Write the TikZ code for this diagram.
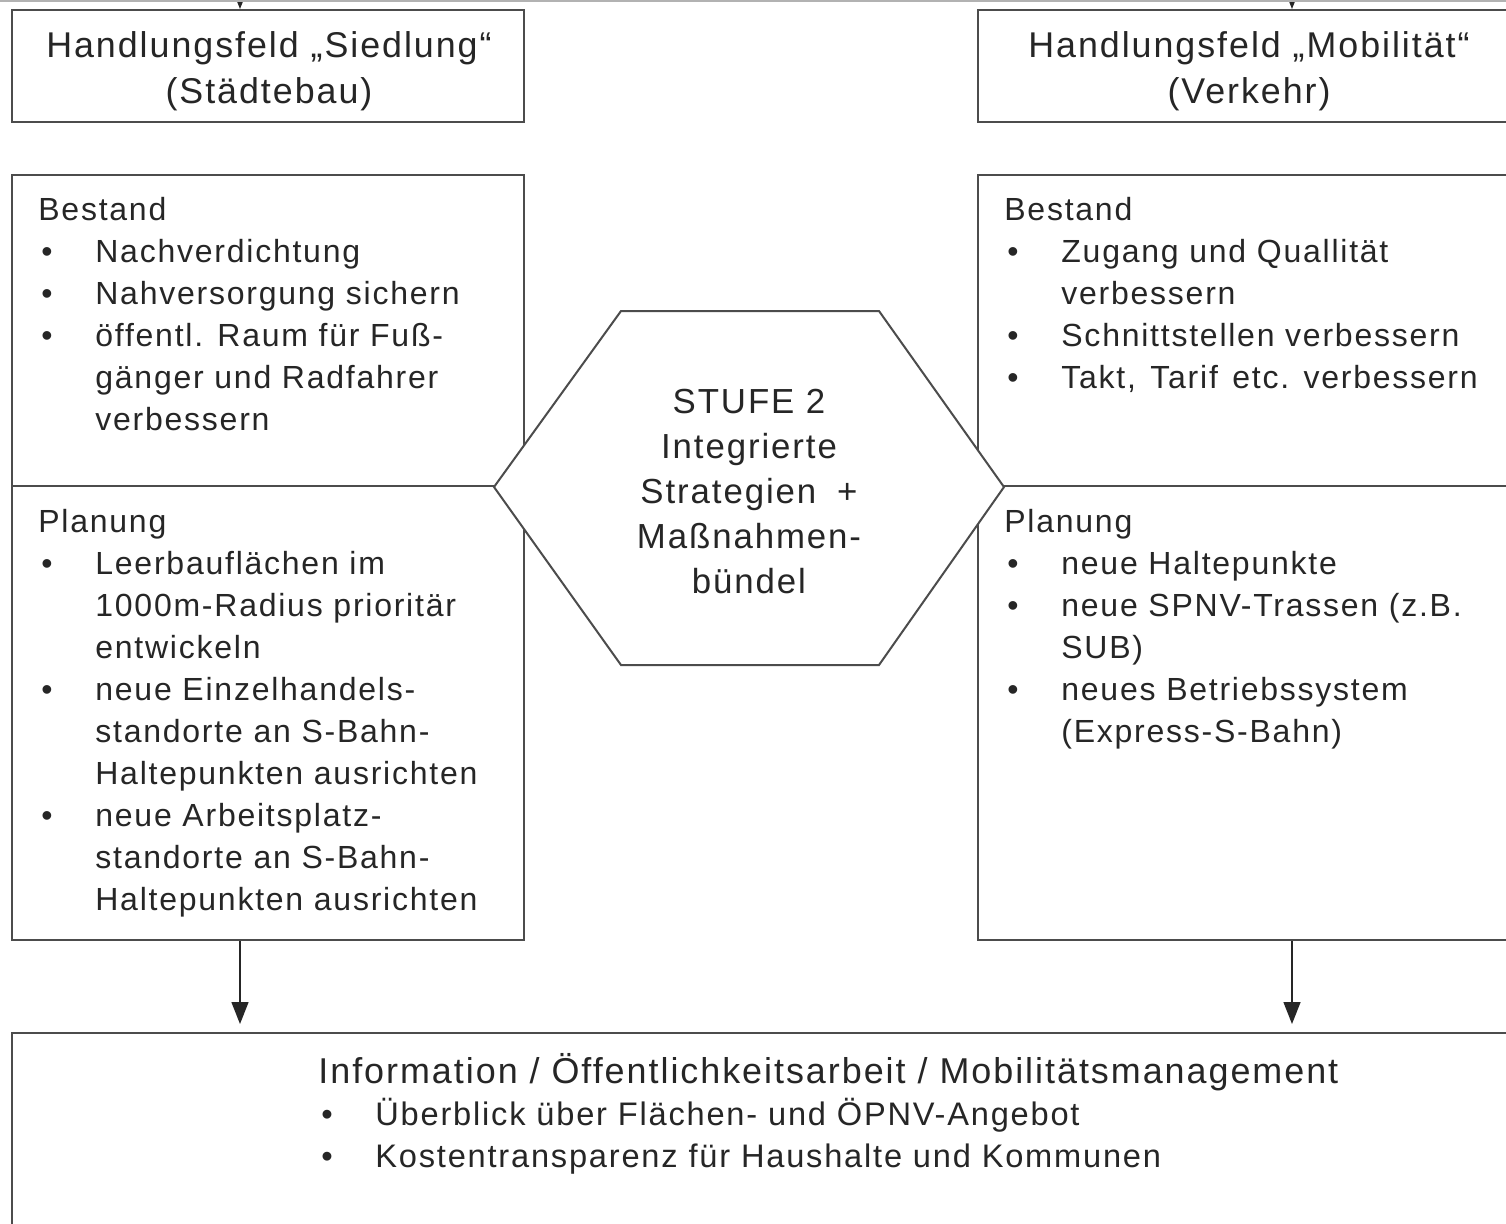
\documentclass[tikz,border=0pt]{standalone}
\usepackage{fontspec}
\setmainfont{Liberation Sans}[LetterSpace=5.5]
\usetikzlibrary{arrows.meta}
\newcommand{\bul}{\makebox[28.5pt][l]{\hspace{1.5pt}•}}
\newcommand{\ind}{\hspace*{28.5pt}}
\newcommand{\bodyfont}{\fontsize{16}{21}\selectfont}
\newcommand{\headfont}{\fontsize{17.9}{23}\selectfont}
\begin{document}
\begin{tikzpicture}[x=0.5pt,y=-0.5pt,
  boxst/.style={draw=black!70, line width=1pt, rectangle, inner sep=0pt, fill=white},
  hexst/.style={draw=black!70, line width=1pt, fill=white},
  linest/.style={draw=black!70, line width=1pt},
  txt/.style={inner sep=0pt, text=black!85},
  arr/.style={draw=black!85, line width=0.7pt, -{Triangle[length=11pt,width=8.5pt]}}]
\useasboundingbox (0,0) rectangle (1506,1223);
\clip (0,0) rectangle (1506,1223);
\fill[white] (0,0) rectangle (1506,1223);
% boxes
\node[boxst, minimum width=256pt, minimum height=56pt] (H1) at (268,66) {};
\node[boxst, minimum width=271pt, minimum height=56pt] (H2) at (1249,66) {};
\node[boxst, minimum width=256pt, minimum height=382.5pt] (LB) at (268,557.5) {};
\node[boxst, minimum width=271pt, minimum height=382.5pt] (RB) at (1249,557.5) {};
\node[boxst, minimum width=754pt, minimum height=113.5pt] (BB) at (766,1146.5) {};
% dividers
\coordinate (dv) at (0,486);
\draw[linest] (LB.west |- dv) -- (LB.east |- dv);
\draw[linest] (RB.west |- dv) -- (RB.east |- dv);
% hexagon
\coordinate (h1) at (494,487);
\coordinate (h2) at (621,311);
\coordinate (h3) at (879,311);
\coordinate (h4) at (1004,487);
\coordinate (h5) at (879,665);
\coordinate (h6) at (621,665);
\draw[hexst] (h1) -- (h2) -- (h3) -- (h4) -- (h5) -- (h6) -- cycle;
% arrows
\coordinate (xl) at (240,0);
\coordinate (xr) at (1292,0);
\coordinate (tl) at (240,-60);
\coordinate (tr) at (1292,-60);
\draw[arr, shorten >=4pt] (xl |- LB.south) -- (xl |- BB.north);
\draw[arr, shorten >=4pt] (xr |- RB.south) -- (xr |- BB.north);
\draw[arr] (tl) -- (xl |- H1.north);
\draw[arr] (tr) -- (xr |- H2.north);
\draw[black!30, line width=1pt] (0,1) -- (1506,1);
% texts
\node[txt, anchor=base] (t1) at (269,57) {\parbox[t]{250pt}{\centering\headfont Handlungsfeld „Siedlung“\\(Städtebau)}};
\node[txt, anchor=base] (t2) at (1249,57) {\parbox[t]{250pt}{\centering\headfont Handlungsfeld „Mobilität“\\(Verkehr)}};
\node[txt, anchor=base west] (t3) at (38,220) {\parbox[t]{250pt}{\raggedright\bodyfont Bestand\\
\bul Nachverdichtung\\
\bul Nahversorgung sichern\\
\bul öffentl. Raum für Fuß-\\
\ind gänger und Radfahrer\\
\ind verbessern}};
\node[txt, anchor=base west] (t4) at (38,532) {\parbox[t]{250pt}{\raggedright\bodyfont Planung\\
\bul Leerbauflächen im\\
\ind 1000m-Radius prioritär\\
\ind entwickeln\\
\bul neue Einzelhandels-\\
\ind standorte an S-Bahn-\\
\ind Haltepunkten ausrichten\\
\bul neue Arbeitsplatz-\\
\ind standorte an S-Bahn-\\
\ind Haltepunkten ausrichten}};
\node[txt, anchor=base west] (t5) at (1004,220) {\parbox[t]{250pt}{\raggedright\bodyfont Bestand\\
\bul Zugang und Quallität\\
\ind verbessern\\
\bul Schnittstellen verbessern\\
\bul Takt,\hspace{0.45em}Tarif\hspace{0.45em}etc.\hspace{0.45em}verbessern}};
\node[txt, anchor=base west] (t6) at (1004,532) {\parbox[t]{250pt}{\raggedright\bodyfont Planung\\
\bul neue Haltepunkte\\
\bul neue SPNV-Trassen (z.B.\\
\ind SUB)\\
\bul neues Betriebssystem\\
\ind (Express-S-Bahn)}};
\node[txt, anchor=base] (t7) at (749,413) {\parbox[t]{220pt}{\centering\fontsize{17.4}{22.5}\selectfont STUFE 2\\Integrierte\\Strategien\hspace{0.6em}+\\Maßnahmen-\\bündel}};
\node[txt, anchor=base west] (t8) at (318,1083) {\parbox[t]{600pt}{\raggedright\fontsize{17.95}{21}\selectfont Information / Öffentlichkeitsarbeit / Mobilitätsmanagement\\
\fontsize{16.3}{21}\selectfont
\bul Überblick über Flächen- und ÖPNV-Angebot\\
\bul Kostentransparenz für Haushalte und Kommunen}};
\end{tikzpicture}
\end{document}
